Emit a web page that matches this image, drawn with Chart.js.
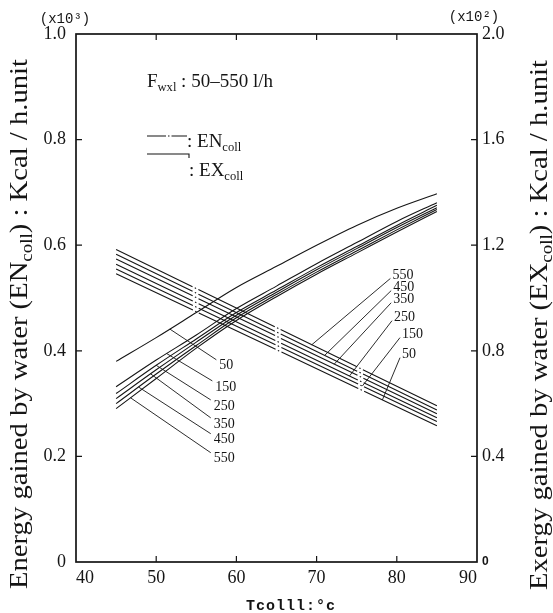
<!DOCTYPE html>
<html>
<head>
<meta charset="utf-8">
<script src="https://cdn.jsdelivr.net/npm/chart.js@4.4.1/dist/chart.umd.min.js"></script>
<style>
  html, body { margin: 0; padding: 0; background: #fff; }
  #wrap { width: 553px; height: 613px; position: relative; }
</style>
</head>
<body>
<div id="wrap"><canvas id="chartColl"></canvas></div>
<script>
// Collector temperature T_coll (°C)
const tempEx = [45, 50, 55, 60, 65, 70, 75, 80, 85];
const tempEn = [45, 85];
const flowRates = [50, 150, 250, 350, 450, 550];

// Energy gained by water, x10^3 Kcal/h.unit (left axis, dash-dot)
const en50  = [0.546, 0.258];
const en150 = [0.555, 0.266];
const en250 = [0.564, 0.273];
const en350 = [0.574, 0.281];
const en450 = [0.583, 0.288];
const en550 = [0.592, 0.296];

// Exergy gained by water, x10^2 Kcal/h.unit (right axis, solid)
const ex50  = [0.760, 0.850, 0.945, 1.040, 1.120, 1.200, 1.275, 1.340, 1.395];
const ex150 = [0.664, 0.765, 0.860, 0.960, 1.045, 1.130, 1.210, 1.290, 1.361];
const ex250 = [0.638, 0.745, 0.845, 0.945, 1.030, 1.115, 1.195, 1.275, 1.351];
const ex350 = [0.619, 0.728, 0.833, 0.935, 1.022, 1.107, 1.187, 1.267, 1.342];
const ex450 = [0.600, 0.712, 0.820, 0.925, 1.013, 1.098, 1.178, 1.258, 1.335];
const ex550 = [0.581, 0.695, 0.810, 0.915, 1.005, 1.090, 1.170, 1.250, 1.328];

// Leader lines of the flow-rate labels (T where it meets the curve, label end T / value)
const exLeadCurveT = [51.7, 51.3, 50.0, 49.3, 47.8, 46.8];
const exLabelT     = [57.5, 57.0, 56.8, 56.8, 56.8, 56.8];
const exLabelVal   = [0.766, 0.686, 0.614, 0.546, 0.486, 0.414];
const enLeadCurveT = [78.2, 75.7, 74.1, 72.2, 71.0, 69.4];
const enLabelT     = [80.4, 80.4, 79.4, 79.3, 79.3, 79.2];
const enLabelVal   = [0.387, 0.425, 0.457, 0.491, 0.514, 0.537];

const enSeries = [en50, en150, en250, en350, en450, en550];
const exSeries = [ex50, ex150, ex250, ex350, ex450, ex550];

const ink = '#151515';
const serif = '"Liberation Serif", "DejaVu Serif", serif';
const mono = '"Liberation Mono", "DejaVu Sans Mono", monospace';

// value of a series at t (straight between readings, only for leader anchors)
function valueAt(xs, ys, t) {
    for (let i = 0; i < xs.length - 1; i++) {
        if (t >= xs[i] && t <= xs[i + 1]) {
            const f = (t - xs[i]) / (xs[i + 1] - xs[i]);
            return ys[i] + f * (ys[i + 1] - ys[i]);
        }
    }
    return ys[ys.length - 1];
}

const datasets = [];

enSeries.forEach(vals => {
    datasets.push({
        data: tempEn.map((t, i) => ({ x: t, y: vals[i] })),
        yAxisID: 'yEn',
        borderColor: ink,
        borderWidth: 1.1,
        borderDash: [85, 2.5, 1.5, 2.5],
        pointRadius: 0,
        fill: false
    });
});

exSeries.forEach(vals => {
    datasets.push({
        data: tempEx.map((t, i) => ({ x: t, y: vals[i] })),
        yAxisID: 'yEx',
        borderColor: ink,
        borderWidth: 1.1,
        cubicInterpolationMode: 'monotone',
        pointRadius: 0,
        fill: false
    });
});

flowRates.forEach((q, k) => {
    datasets.push({
        data: [
            { x: exLeadCurveT[k], y: valueAt(tempEx, exSeries[k], exLeadCurveT[k]) },
            { x: exLabelT[k], y: exLabelVal[k] }
        ],
        yAxisID: 'yEx',
        borderColor: ink,
        borderWidth: 0.9,
        pointRadius: 0,
        flowLabel: String(q),
        side: 'ex'
    });
    datasets.push({
        data: [
            { x: enLeadCurveT[k], y: valueAt(tempEn, enSeries[k], enLeadCurveT[k]) },
            { x: enLabelT[k], y: enLabelVal[k] }
        ],
        yAxisID: 'yEn',
        borderColor: ink,
        borderWidth: 0.9,
        pointRadius: 0,
        flowLabel: String(q),
        side: 'en'
    });
});

// text with subscripts, parts = [[text, isSub], ...]
function drawParts(ctx, parts, x, y, size) {
    let cx = x;
    parts.forEach(([t, sub]) => {
        const s = sub ? size * 0.66 : size;
        ctx.font = s + 'px ' + serif;
        ctx.fillText(t, cx, y + (sub ? size * 0.2 : 0));
        cx += ctx.measureText(t).width;
    });
    return cx - x;
}
function partsWidth(ctx, parts, size) {
    let w = 0;
    parts.forEach(([t, sub]) => {
        ctx.font = (sub ? size * 0.66 : size) + 'px ' + serif;
        w += ctx.measureText(t).width;
    });
    return w;
}
function drawVertical(ctx, parts, x, yMid, size, length) {
    ctx.save();
    ctx.translate(x, yMid);
    ctx.rotate(-Math.PI / 2);
    const w = partsWidth(ctx, parts, size);
    ctx.scale(length / w, 1);
    ctx.textAlign = 'left';
    ctx.textBaseline = 'alphabetic';
    drawParts(ctx, parts, -w / 2, 0, size);
    ctx.restore();
}

const decorPlugin = {
    id: 'decor',
    afterDatasetsDraw(chart) {
        const { ctx, chartArea: ca, scales } = chart;
        ctx.save();
        ctx.strokeStyle = ink;
        ctx.fillStyle = ink;

        // frame
        ctx.lineWidth = 1.7;
        ctx.strokeRect(ca.left, ca.top, ca.right - ca.left, ca.bottom - ca.top);

        // inward tick marks
        ctx.lineWidth = 1.2;
        const tl = 6;
        ctx.beginPath();
        scales.x.ticks.forEach(t => {
            if (t.value <= scales.x.min || t.value >= scales.x.max) return;
            const px = scales.x.getPixelForValue(t.value);
            ctx.moveTo(px, ca.bottom); ctx.lineTo(px, ca.bottom - tl);
            ctx.moveTo(px, ca.top); ctx.lineTo(px, ca.top + tl);
        });
        scales.yEn.ticks.forEach(t => {
            if (t.value <= 0 || t.value >= scales.yEn.max - 1e-9) return;
            const py = scales.yEn.getPixelForValue(t.value);
            ctx.moveTo(ca.left, py); ctx.lineTo(ca.left + tl, py);
        });
        scales.yEx.ticks.forEach(t => {
            if (t.value <= 0 || t.value >= scales.yEx.max - 1e-9) return;
            const py = scales.yEx.getPixelForValue(t.value);
            ctx.moveTo(ca.right, py); ctx.lineTo(ca.right - tl, py);
        });
        ctx.stroke();

        // flow-rate labels at leader ends
        ctx.font = '14px ' + serif;
        ctx.textAlign = 'left';
        ctx.textBaseline = 'middle';
        chart.data.datasets.forEach((ds, i) => {
            if (!ds.flowLabel) return;
            const pt = chart.getDatasetMeta(i).data[1];
            if (ds.side === 'ex') ctx.fillText(ds.flowLabel, pt.x + 3, pt.y + 6);
            else ctx.fillText(ds.flowLabel, pt.x + 2, pt.y - 3);
        });

        // legend block
        ctx.textBaseline = 'alphabetic';
        const lx = ca.left + 71;
        drawParts(ctx, [['F', false], ['wxl', true], [' : 50\u2013550 l/h', false]], lx, ca.top + 53, 19);

        ctx.lineWidth = 1.1;
        ctx.setLineDash([19, 2, 1.5, 2]);
        ctx.beginPath();
        ctx.moveTo(lx, ca.top + 102); ctx.lineTo(lx + 40, ca.top + 102);
        ctx.stroke();
        ctx.setLineDash([]);
        drawParts(ctx, [[': EN', false], ['coll', true]], lx + 40, ca.top + 113, 19);

        ctx.beginPath();
        ctx.moveTo(lx, ca.top + 120); ctx.lineTo(lx + 42, ca.top + 120);
        ctx.lineTo(lx + 42, ca.top + 124);
        ctx.stroke();
        drawParts(ctx, [[': EX', false], ['coll', true]], lx + 42, ca.top + 142, 19);

        // scale multipliers
        ctx.font = '14px ' + mono;
        ctx.textAlign = 'center';
        ctx.textBaseline = 'middle';
        ctx.fillText('(x10\u00b3)', ca.left - 11, ca.top - 15);
        ctx.fillText('(x10\u00b2)', ca.right - 3, ca.top - 17);

        // axis titles
        ctx.textAlign = 'left';
        ctx.textBaseline = 'alphabetic';
        drawVertical(ctx, [['Energy gained by water (EN', false], ['coll', true], [') : Kcal / h.unit', false]],
            27, 324, 25, 530);
        drawVertical(ctx, [['Exergy gained by water (EX', false], ['coll', true], [') : Kcal / h.unit', false]],
            547, 325, 25, 530);

        ctx.font = 'bold 15px ' + mono;
        ctx.textAlign = 'center';
        ctx.textBaseline = 'middle';
        if ('letterSpacing' in ctx) ctx.letterSpacing = '1px';
        ctx.fillText('Tcolll:\u00b0c', 291, 606);
        ctx.restore();
    }
};

const tickFont = { family: serif, size: 18 };
const fmt = v => (Math.abs(v) < 1e-9 ? '0' : v.toFixed(1));

new Chart(document.getElementById('chartColl'), {
    type: 'line',
    data: { datasets },
    options: {
        responsive: true,
        maintainAspectRatio: false,
        animation: false,
        events: [],
        layout: { padding: { top: 34, left: 0, right: 0, bottom: 0 } },
        plugins: { legend: { display: false }, tooltip: { enabled: false } },
        scales: {
            x: {
                type: 'linear',
                position: 'bottom',
                min: 40, max: 90,
                ticks: { stepSize: 10, align: 'inner', padding: 5, color: ink, font: tickFont },
                grid: { display: false, drawTicks: false },
                border: { display: false },
                afterFit: s => { s.height = 51; }
            },
            yEn: {
                type: 'linear',
                position: 'left',
                min: 0, max: 1.0,
                ticks: { stepSize: 0.2, padding: 10, color: ink, font: tickFont, callback: fmt },
                grid: { display: false, drawTicks: false },
                border: { display: false },
                afterFit: s => { s.width = 76; }
            },
            yEx: {
                type: 'linear',
                position: 'right',
                min: 0, max: 2.0,
                ticks: {
                    stepSize: 0.4, padding: 5, color: ink, callback: fmt,
                    font: c => (c.tick && Math.abs(c.tick.value) < 1e-9)
                        ? { family: '"Liberation Sans", sans-serif', size: 12, weight: 'bold' }
                        : tickFont
                },
                grid: { display: false, drawTicks: false },
                border: { display: false },
                afterFit: s => { s.width = 76; }
            }
        }
    },
    plugins: [decorPlugin]
});
</script>
</body>
</html>
